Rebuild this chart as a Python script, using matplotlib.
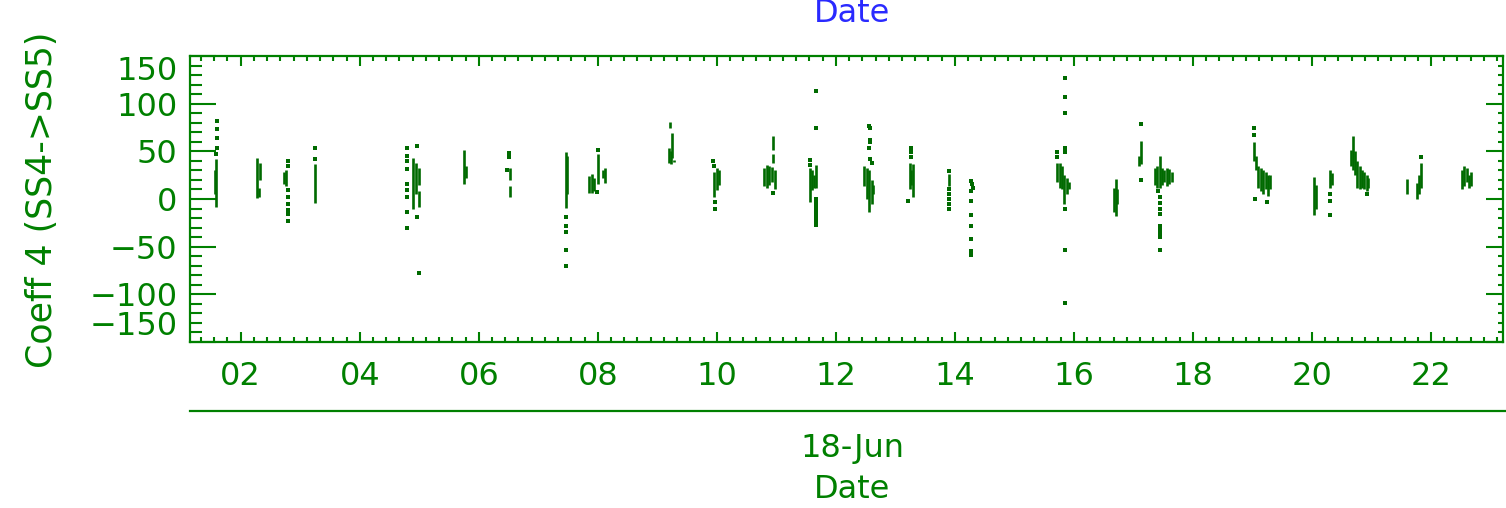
import numpy as np
import matplotlib
matplotlib.use("Agg")
import matplotlib.pyplot as plt
from matplotlib.ticker import MultipleLocator, FixedLocator
from matplotlib.lines import Line2D

# hour of day on 18-Jun, vertical runs of dense samples (lo..hi)
seg_hour = [1.59, 1.56, 2.28, 2.33, 2.31, 2.72, 2.76, 3.25,
            4.90, 4.95, 5.00, 5.00, 5.76, 5.78, 6.52, 6.52, 7.46, 7.48,
            7.86, 7.90, 7.94, 8.01, 8.12, 8.08,
            9.22, 9.25, 9.19, 9.23, 9.28, 9.96, 10.00, 10.04,
            10.95, 10.95, 10.80, 10.84, 10.88, 10.92, 10.97,
            11.56, 11.60, 11.64, 11.66,
            12.48, 12.52, 12.56, 12.60, 12.62, 13.24, 13.29, 13.26, 13.90,
            15.72, 15.76, 15.80, 15.84, 15.88, 15.92,
            16.70, 16.67, 16.73, 17.12, 17.09,
            17.36, 17.40, 17.44, 17.48, 17.52, 17.56, 17.60, 17.64,
            19.02, 19.06, 19.10, 19.14, 19.18, 19.22, 19.26, 19.30,
            20.03, 20.06, 20.31, 20.33,
            20.66, 20.69, 20.72, 20.76, 20.80, 20.84, 20.88, 20.92, 20.95,
            21.59, 21.76, 21.80, 21.83,
            22.52, 22.56, 22.60, 22.64, 22.68]
seg_lo = [-8, 5, 1, 20, 2, 16, 14, -4,
          -10, 5, 15, -8, 16, 22, 20, 2, -9, 5,
          6, 6, 8, 16, 17, 22,
          74, 43, 38, 37, 39, 2, 9, 15,
          51, 38, 14, 12, 15, 18, 10,
          -3, 9, 12, 12,
          14, 0, -14, -5, 5, 10, 2, 15, 14,
          18, 12, 10, -5, 5, 10,
          -18, -14, -5, 37, 35,
          15, 12, 12, 15, 18, 14, 16, 18,
          40, 30, 12, 8, 5, 10, 3, 10,
          -17, -10, 12, 15,
          35, 30, 25, 12, 10, 12, 10, 8, 12,
          5, 0, 5, 12,
          10, 14, 18, 12, 14]
seg_hi = [42, 30, 43, 38, 12, 28, 30, 37,
          43, 38, 32, 8, 51, 35, 33, 14, 49, 45,
          24, 26, 22, 47, 33, 30,
          81, 69, 54, 50, 41, 28, 32, 30,
          66, 47, 33, 36, 35, 34, 30,
          33, 30, 25, 36,
          35, 33, 30, 20, 15, 38, 37, 30, 26,
          38, 38, 35, 25, 22, 18,
          21, 12, 10, 61, 45,
          33, 35, 45, 33, 30, 33, 31, 28,
          60, 45, 35, 32, 30, 28, 25, 25,
          23, 15, 30, 27,
          51, 66, 50, 40, 35, 30, 28, 25, 22,
          21, 17, 25, 38,
          30, 35, 32, 25, 28]

# isolated samples
dot_hour = [1.60, 1.60, 1.60, 1.60, 1.59,
            2.80, 2.80, 2.80, 2.80, 2.80, 2.80, 2.80, 2.80,
            3.25, 3.25,
            4.79, 4.79, 4.79, 4.79, 4.79, 4.79, 4.79, 4.79, 4.79,
            4.96, 4.96, 5.00,
            6.50, 6.50, 6.48,
            7.46, 7.46, 7.46, 7.46, 7.46,
            8.01, 7.98,
            9.93, 9.95, 9.97, 9.97, 10.95,
            11.66, 11.66, 11.66, 11.66, 11.66, 11.66, 11.66, 11.66,
            11.66, 11.66, 11.56, 11.56,
            12.55, 12.58, 12.57, 12.58, 12.55, 12.57, 12.60,
            13.26, 13.26, 13.26, 13.22,
            13.90, 13.90, 13.90, 13.90, 13.90, 13.90,
            14.27, 14.29, 14.30, 14.27, 14.27, 14.27, 14.27, 14.27, 14.27, 14.27,
            15.72, 15.72, 15.85, 15.85, 15.85, 15.85, 15.85, 15.85, 15.85, 15.85,
            17.13, 17.12,
            17.42, 17.44, 17.44, 17.44, 17.44, 17.44, 17.44, 17.44, 17.44, 17.44,
            19.02, 19.03, 19.05, 19.25,
            20.31, 20.31, 20.31, 20.92, 21.84]
dot_val = [82, 73, 64, 54, 47,
           40, 35, 9, 2, -5, -12, -16, -23,
           54, 42,
           54, 45, 40, 31, 16, 9, 2, -14, -30,
           56, -19, -78,
           48, 44, 30,
           -19, -28, -35, -53, -70,
           51.5, 7,
           40, 35, -3, -11, 6,
           0, -4, -8, -12, -16, -20, -24, -27,
           113, 74, 41, 36,
           77, 74, 62, 60, 53, 42, 38,
           54, 49, 44, -2.5,
           29, 10, 5, 0, -5, -10,
           19, 16, 12, 8, -2.5, -16.5, -28, -42, -55, -59,
           49, 44, 53, 49, -11, -53, -109, 90, 107, 127,
           79, 20,
           8, 2, -4, -10, -16, -28, -32, -36, -40, -53,
           74, 67, 0, -3,
           5, -2.5, -16.5, 5, 44]

hour_ticks = [2, 4, 6, 8, 10, 12, 14, 16, 18, 20, 22]
hour_labels = ['02', '04', '06', '08', '10', '12', '14', '16', '18', '20', '22']

green = '#008000'
dark = '#006a00'
blue = '#2a2aff'
plt.rcParams['font.family'] = ['DejaVu Sans']
fs = 23

fig = plt.figure(figsize=(15.06, 5.08), dpi=100)
ax = fig.add_axes([190 / 1506, 1 - 342 / 508, 1313 / 1506, 286 / 508])

ax.vlines(seg_hour, seg_lo, seg_hi, colors=dark, linewidth=1.9)
ax.plot(dot_hour, dot_val, 's', color=dark, markersize=2.3, markeredgewidth=0)

ax.set_xlim(1.148, 23.21)
ax.set_ylim(-150, 150)
for s in ax.spines.values():
    s.set_color(green)
    s.set_linewidth(1.6)

ax.xaxis.set_major_locator(FixedLocator(hour_ticks))
ax.set_xticklabels(hour_labels)
ax.xaxis.set_minor_locator(MultipleLocator(2 / 9))
ax.tick_params(axis='x', which='both', direction='in', top=True, bottom=True,
               colors=green, labelcolor=green, labelsize=fs, width=1.5, pad=14)
ax.tick_params(axis='x', which='major', length=7.5)
ax.tick_params(axis='x', which='minor', length=3.8)

ax.yaxis.set_major_locator(MultipleLocator(50))
ax.yaxis.set_minor_locator(MultipleLocator(10))
ax.tick_params(axis='y', which='both', direction='in', left=True, right=False,
               colors=green, labelcolor=green, labelsize=fs, width=1.5, pad=9)
ax.tick_params(axis='y', which='major', length=19)
ax.tick_params(axis='y', which='minor', length=8.5)

# right axis ticks are shorter
ax2 = ax.twinx()
ax2.set_ylim(-150, 150)
ax2.yaxis.set_major_locator(MultipleLocator(50))
ax2.yaxis.set_minor_locator(MultipleLocator(10))
ax2.tick_params(axis='y', which='both', direction='in', colors=green,
                labelright=False, width=1.5)
ax2.tick_params(axis='y', which='major', length=12)
ax2.tick_params(axis='y', which='minor', length=3.8)
for s in ax2.spines.values():
    s.set_visible(False)

fig.canvas.draw()
labs = ax.get_yticklabels()
for lab in labs:
    if lab.get_text() in ('150',):
        lab.set_verticalalignment('top')
    if lab.get_text() in ('\u2212150', '-150'):
        lab.set_verticalalignment('bottom')

# second date axis line and labels
fig.add_artist(Line2D([190 / 1506, 1.0], [1 - 411 / 508, 1 - 411 / 508],
                      color=green, linewidth=1.6))
fig.text(852 / 1506, 1 - 448 / 508, '18-Jun', color=green, fontsize=fs,
         ha='center', va='center')
fig.text(852 / 1506, 1 - 490 / 508, 'Date', color=green, fontsize=fs,
         ha='center', va='center')
fig.text(852 / 1506, 1 - 14 / 508, 'Date', color=blue, fontsize=fs,
         ha='center', va='center')
fig.text(42 / 1506, 1 - 200 / 508, 'Coeff 4 (SS4->SS5)', color=green,
         fontsize=25, rotation=90, ha='center', va='center')

plt.savefig('out.png', dpi=100)
